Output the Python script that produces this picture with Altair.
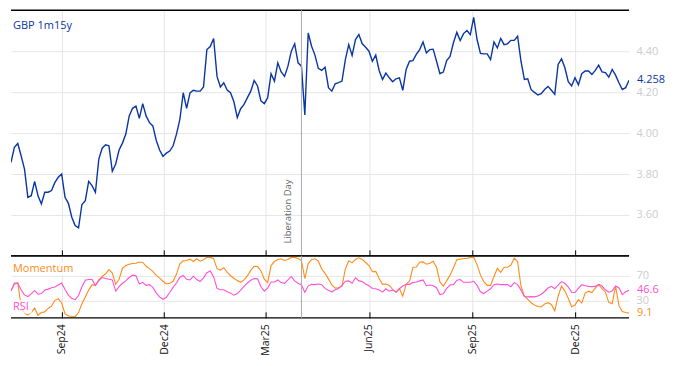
import altair as alt
import pandas as pd

# ---------------- data ----------------
start_date = "2024-07-18"
step = "3D"

gbp = [
    3.857, 3.930, 3.949, 3.889, 3.824, 3.686, 3.694, 3.764, 3.694, 3.654,
    3.711, 3.711, 3.719, 3.759, 3.784, 3.800, 3.686, 3.657, 3.589, 3.548,
    3.537, 3.651, 3.670, 3.764, 3.743, 3.711, 3.873, 3.926, 3.943, 3.938,
    3.813, 3.849, 3.917, 3.951, 3.995, 4.084, 4.121, 4.132, 4.072, 4.144,
    4.084, 4.051, 4.035, 3.965, 3.917, 3.886, 3.902, 3.912, 3.938, 3.995,
    4.067, 4.197, 4.121, 4.196, 4.209, 4.205, 4.205, 4.225, 4.408, 4.423,
    4.462, 4.277, 4.225, 4.246, 4.210, 4.197, 4.153, 4.076, 4.119, 4.140,
    4.173, 4.205, 4.257, 4.230, 4.157, 4.144, 4.173, 4.290, 4.254, 4.343,
    4.299, 4.277, 4.327, 4.400, 4.436, 4.343, 4.327, 4.089, 4.489, 4.424,
    4.381, 4.316, 4.306, 4.322, 4.222, 4.205, 4.241, 4.246, 4.254, 4.359,
    4.432, 4.379, 4.457, 4.481, 4.436, 4.419, 4.400, 4.351, 4.381, 4.306,
    4.262, 4.293, 4.270, 4.251, 4.265, 4.270, 4.209, 4.311, 4.351, 4.354,
    4.384, 4.408, 4.445, 4.392, 4.408, 4.410, 4.351, 4.290, 4.298, 4.354,
    4.374, 4.441, 4.492, 4.452, 4.486, 4.501, 4.481, 4.565, 4.457, 4.389,
    4.387, 4.387, 4.359, 4.445, 4.416, 4.462, 4.432, 4.436, 4.453, 4.453,
    4.473, 4.351, 4.262, 4.265, 4.212, 4.199, 4.186, 4.192, 4.213, 4.228,
    4.209, 4.189, 4.335, 4.363, 4.319, 4.251, 4.230, 4.270, 4.236, 4.290,
    4.303, 4.303, 4.286, 4.306, 4.332, 4.299, 4.295, 4.273, 4.311, 4.283,
    4.246, 4.213, 4.222, 4.258,
]

rsi = [
    45.0, 58.3, 57.8, 47.2, 38.9, 36.1, 40.6, 46.1, 40.0, 41.1,
    46.7, 48.3, 50.6, 51.7, 55.0, 58.3, 47.8, 38.3, 32.8, 31.1,
    37.8, 52.2, 62.8, 63.9, 63.9, 54.4, 62.2, 67.2, 65.6, 64.4,
    63.3, 45.0, 52.2, 57.8, 61.7, 67.2, 71.1, 70.0, 56.7, 59.4,
    54.4, 55.6, 51.1, 42.2, 35.6, 31.7, 35.0, 42.8, 51.1, 58.3,
    67.8, 70.6, 64.4, 63.3, 69.4, 63.9, 60.6, 66.7, 75.0, 77.8,
    68.3, 49.4, 47.2, 47.2, 43.9, 41.7, 38.3, 41.1, 46.7, 52.8,
    58.3, 62.8, 65.6, 65.0, 52.2, 45.0, 50.0, 60.0, 60.0, 63.3,
    58.9, 57.8, 63.3, 68.9, 61.7, 57.8, 55.0, 43.3, 53.3, 56.1,
    55.6, 56.7, 55.6, 49.4, 46.1, 43.9, 47.2, 49.4, 54.4, 61.1,
    61.7, 57.8, 66.7, 61.7, 60.6, 56.7, 53.9, 49.4, 48.9, 46.7,
    43.3, 48.9, 45.0, 46.7, 43.3, 48.9, 53.3, 56.1, 56.1, 58.9,
    60.0, 61.7, 63.3, 53.9, 55.0, 53.9, 50.6, 39.4, 40.6, 49.4,
    55.0, 55.6, 62.8, 63.9, 59.4, 59.4, 59.4, 61.1, 54.4, 43.9,
    41.1, 45.0, 48.9, 55.6, 56.7, 55.6, 55.6, 55.6, 52.2, 58.9,
    55.6, 46.7, 36.1, 35.6, 36.1, 35.6, 37.2, 40.0, 44.4, 50.0,
    52.8, 48.9, 55.0, 60.6, 57.8, 51.7, 43.3, 42.8, 49.4, 55.6,
    53.9, 52.8, 52.2, 52.8, 56.1, 53.3, 47.2, 43.3, 45.0, 53.3,
    50.6, 39.4, 44.0, 46.6,
]

momentum = [
    46.1, 56.1, 58.9, 20.0, 8.9, 6.1, 10.0, 17.2, 5.6, 10.0,
    11.1, 16.7, 20.6, 30.0, 32.8, 25.6, 7.8, 4.4, 3.9, 3.3,
    10.0, 24.4, 35.6, 46.7, 55.6, 54.4, 63.3, 68.9, 73.3, 80.0,
    74.4, 56.1, 64.4, 82.2, 86.7, 88.9, 90.0, 90.6, 92.2, 92.2,
    85.6, 81.7, 77.2, 70.6, 66.1, 61.1, 56.7, 57.8, 61.1, 72.8,
    89.4, 94.4, 95.0, 97.2, 93.3, 97.8, 93.9, 96.1, 100.0, 100.0,
    98.0, 81.7, 79.4, 83.3, 76.1, 70.0, 66.1, 62.2, 59.4, 63.3,
    70.0, 78.9, 85.6, 85.0, 78.3, 64.4, 58.9, 86.7, 93.3, 96.7,
    97.8, 95.0, 96.7, 100.0, 100.0, 98.3, 95.0, 65.6, 90.0, 96.7,
    97.8, 93.9, 81.1, 73.9, 65.0, 55.0, 50.0, 50.6, 53.3, 81.1,
    94.4, 91.1, 96.7, 99.4, 96.7, 91.7, 86.7, 76.7, 77.2, 65.6,
    56.1, 56.7, 54.4, 47.8, 43.3, 48.9, 36.7, 56.1, 61.1, 83.9,
    84.4, 92.2, 92.8, 88.9, 90.6, 93.9, 83.9, 60.0, 53.3, 61.7,
    71.1, 83.3, 96.1, 97.2, 98.3, 98.3, 100.0, 100.0, 88.3, 71.1,
    60.6, 54.4, 54.4, 68.9, 82.2, 75.6, 83.9, 83.9, 87.2, 98.9,
    93.3, 53.3, 37.2, 31.7, 26.1, 22.2, 20.0, 19.4, 23.9, 26.1,
    23.3, 12.8, 36.7, 53.3, 45.0, 33.3, 19.4, 22.2, 31.1, 25.6,
    41.7, 45.0, 42.8, 50.0, 55.6, 48.9, 43.3, 26.7, 24.4, 53.3,
    21.7, 11.7, 10.0, 9.1,
]

tick_dates = ["2024-09-01", "2024-12-01", "2025-03-01",
              "2025-06-01", "2025-09-01", "2025-12-01"]
event_date = "2025-04-02"
event_label = "Liberation Day"
series_title = "GBP 1m15y"
main_ticks = [3.6, 3.8, 4.0, 4.2, 4.4]
main_domain = [3.40, 4.60]
osc_ticks = [30, 70]
osc_domain = [1.5, 102.5]

# ---------------- styling ----------------
BLUE = "#0a36a3"
PINK = "#ff4fd8"
ORANGE = "#ff8c1a"
GRID = "#e6e6e6"
LABEL_GREY = "#cccccc"
FONT = "Open Sans"

dates = pd.date_range(start_date, periods=len(gbp), freq=step)
df = pd.DataFrame({"date": dates, "gbp": gbp, "rsi": rsi, "mom": momentum})
last = df.iloc[[-1]]
one = pd.DataFrame({"k": [0]})


def dt(s):
    t = pd.Timestamp(s)
    return alt.DateTime(year=t.year, month=t.month, date=t.day)


tick_vals = [dt(s) for s in tick_dates]
ev = dt(event_date)

W = 619
H_MAIN = 246
H_OSC = 62

X_SCALE = alt.Scale(domain=[dt(str(dates[0].date())), dt(str(dates[-1].date()))],
                    nice=False)


def x_axis(show_labels):
    return alt.Axis(values=tick_vals, format="%b%y", labels=show_labels,
                    labelAngle=270, labelFontSize=10.5, labelColor="#111111",
                    labelPadding=6, domain=False, tickSize=6, offset=-6,
                    tickColor="#000000", grid=True, gridColor=GRID, title=None)


def y_axis(values, fmt):
    return alt.Axis(orient="right", values=values, format=fmt,
                    labelColor=LABEL_GREY, labelFontSize=11,
                    domain=False, ticks=False, grid=True,
                    gridColor=GRID, labelPadding=7, title=None)


def make_panel(line_specs, y_domain, y_ticks, y_fmt, show_x_labels,
               extras, last_specs, height):
    xa = x_axis(show_x_labels)
    ya = y_axis(y_ticks, y_fmt)
    ys = alt.Scale(domain=y_domain, nice=False, zero=False)
    layers = []
    for field, color, width in line_specs:
        layers.append(alt.Chart(df).mark_line(color=color, strokeWidth=width,
                                              clip=True).encode(
            x=alt.X("date:T", scale=X_SCALE, axis=xa),
            y=alt.Y(f"{field}:Q", scale=ys, axis=ya)))
    # border lines at the ends of the value scale
    for v in y_domain:
        layers.append(alt.Chart(one).mark_rule(color="#000000",
                                               strokeWidth=1.3).encode(
            y=alt.YDatum(v, scale=ys, axis=ya)))
    # event marker
    layers.append(alt.Chart(one).mark_rule(color="#aaaaaa",
                                           strokeWidth=1).encode(
        x=alt.XDatum(ev, type="temporal", scale=X_SCALE, axis=xa)))
    layers.extend(extras(xa, ya, ys))
    for field, color, fmt in last_specs:
        layers.append(alt.Chart(last).mark_text(
            align="left", baseline="middle", dx=8, fontSize=11, color=color,
            font=FONT).encode(
            x=alt.X("date:T", scale=X_SCALE, axis=xa),
            y=alt.Y(f"{field}:Q", scale=ys, axis=ya),
            text=alt.Text(f"{field}:Q", format=fmt)))
    return alt.layer(*layers).properties(width=W, height=height)


# ---------------- main panel ----------------
def main_extras(xa, ya, ys):
    event_text = alt.Chart(one).mark_text(
        angle=270, align="left", baseline="bottom", dy=-8, fontSize=9.5,
        color="#666666", font=FONT).encode(
        x=alt.XDatum(ev, type="temporal", scale=X_SCALE, axis=xa),
        y=alt.YDatum(3.46, scale=ys, axis=ya),
        text=alt.value(event_label))
    title_text = alt.Chart(one).mark_text(
        align="left", baseline="middle", fontSize=11, color=BLUE,
        font=FONT).encode(x=alt.value(2), y=alt.value(16),
                          text=alt.value(series_title))
    return [event_text, title_text]


main = make_panel([("gbp", BLUE, 1.4)], main_domain, main_ticks, ".2f",
                  False, main_extras, [("gbp", BLUE, ".3f")], H_MAIN)


# ---------------- oscillator panel ----------------
def osc_extras(xa, ya, ys):
    out = []
    for label, color, yc, wbox in [("Momentum", ORANGE, 13, 64),
                                   ("RSI", PINK, 51, 20)]:
        out.append(alt.Chart(one).mark_rect(color="#ffffff",
                                            opacity=0.7).encode(
            x=alt.value(1), x2=alt.value(1 + wbox),
            y=alt.value(yc - 7), y2=alt.value(yc + 7)))
        out.append(alt.Chart(one).mark_text(
            align="left", baseline="middle", fontSize=11, color=color,
            font=FONT).encode(x=alt.value(2), y=alt.value(yc),
                              text=alt.value(label)))
    return out


osc = make_panel([("mom", ORANGE, 1.1), ("rsi", PINK, 1.1)], osc_domain,
                 osc_ticks, "d", True, osc_extras,
                 [("rsi", PINK, ".1f"), ("mom", ORANGE, ".1f")], H_OSC)

chart = alt.vconcat(main, osc, spacing=0, bounds="flush").properties(
    padding={"left": 1, "top": 0, "right": 0, "bottom": 0}
).configure_view(stroke="transparent").configure_axis(
    labelFont=FONT
).configure_text(font=FONT)

chart.save("out.html", embed_options={"renderer": "svg", "actions": False})
